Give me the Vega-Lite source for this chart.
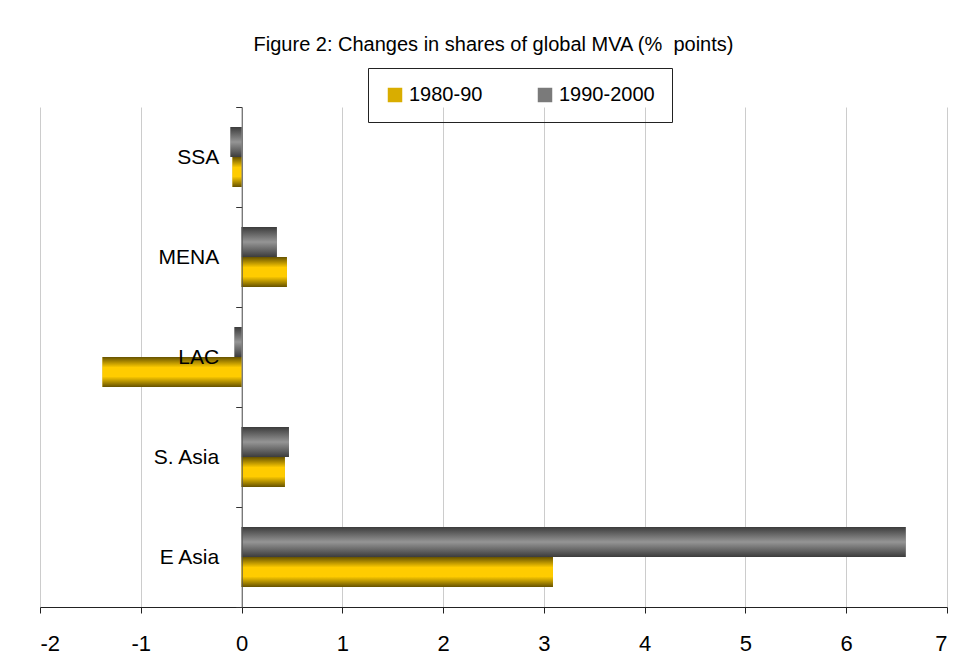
{
  "$schema": "https://vega.github.io/schema/vega-lite/v6.json",
  "width": 907,
  "height": 500,
  "autosize": "none",
  "padding": {"left": 40, "top": 107, "right": 18, "bottom": 62},
  "background": "white",
  "config": {
    "view": {"stroke": null},
    "font": "Liberation Sans, Arial, sans-serif"
  },
  "title": {
    "text": "Figure 2: Changes in shares of global MVA (%\u00a0 points)",
    "fontSize": 20,
    "fontWeight": "normal",
    "color": "#000000",
    "anchor": "middle",
    "frame": "group",
    "offset": 13
  },
  "data": {
    "values": [
      {"region": "SSA", "period": "1980-90", "change": -0.09},
      {"region": "SSA", "period": "1990-2000", "change": -0.11},
      {"region": "MENA", "period": "1980-90", "change": 0.45},
      {"region": "MENA", "period": "1990-2000", "change": 0.35},
      {"region": "LAC", "period": "1980-90", "change": -1.38},
      {"region": "LAC", "period": "1990-2000", "change": -0.07},
      {"region": "S. Asia", "period": "1980-90", "change": 0.43},
      {"region": "S. Asia", "period": "1990-2000", "change": 0.47},
      {"region": "E Asia", "period": "1980-90", "change": 3.09},
      {"region": "E Asia", "period": "1990-2000", "change": 6.59}
    ]
  },
  "encoding": {
    "y": {
      "field": "region",
      "type": "nominal",
      "sort": ["SSA", "MENA", "LAC", "S. Asia", "E Asia"],
      "scale": {"paddingInner": 0, "paddingOuter": 0},
      "axis": {
        "title": null,
        "orient": "left",
        "offset": -201.7,
        "zindex": 1,
        "tickBand": "extent",
        "tickSize": 6,
        "tickColor": "#333333",
        "domainColor": "#555555",
        "labelFontSize": 21,
        "labelColor": "#000000",
        "labelPadding": 17,
        "grid": false
      }
    },
    "yOffset": {
      "field": "period",
      "type": "nominal",
      "sort": ["1990-2000", "1980-90"],
      "scale": {"paddingInner": 0, "paddingOuter": 0.667}
    },
    "x": {
      "field": "change",
      "type": "quantitative",
      "scale": {"domain": [-2, 7], "nice": false, "zero": false},
      "axis": {
        "title": null,
        "values": [-2, -1, 0, 1, 2, 3, 4, 5, 6, 7],
        "labelExpr": "'' + datum.value",
        "tickSize": 6,
        "tickColor": "#222222",
        "domainColor": "#222222",
        "labelFontSize": 22,
        "labelColor": "#000000",
        "labelPadding": 20,
        "grid": true,
        "gridColor": "#cccccc",
        "gridWidth": 1
      }
    }
  },
  "layer": [
    {
      "mark": {"type": "bar"},
      "encoding": {
        "color": {
          "field": "period",
          "type": "nominal",
          "scale": {"domain": ["1980-90", "1990-2000"], "range": ["#d9ad00", "#7a7a7a"]},
          "legend": {
            "title": null,
            "orient": "none",
            "direction": "horizontal",
            "legendX": 328,
            "legendY": -39,
            "padding": 17,
            "strokeColor": "#222222",
            "symbolType": "square",
            "symbolSize": 210,
            "symbolStrokeWidth": 0,
            "symbolOpacity": 1,
            "labelFontSize": 20,
            "labelColor": "#000000",
            "labelOffset": 4,
            "columnPadding": 52,
            "labelLimit": 200
          }
        }
      }
    },
    {
      "mark": {"type": "bar"},
      "encoding": {
        "color": {
          "condition": {
            "test": "datum.period === '1980-90'",
            "value": {"gradient": "linear", "x1": 0, "y1": 0, "x2": 0, "y2": 1, "stops": [
              {"offset": 0, "color": "#665200"},
              {"offset": 0.35, "color": "#ffcc00"},
              {"offset": 0.65, "color": "#ffcc00"},
              {"offset": 1, "color": "#665200"}
            ]}
          },
          "value": {"gradient": "linear", "x1": 0, "y1": 0, "x2": 0, "y2": 1, "stops": [
            {"offset": 0, "color": "#3c3c3c"},
            {"offset": 0.5, "color": "#959595"},
            {"offset": 1, "color": "#3c3c3c"}
          ]}
        }
      }
    }
  ]
}
